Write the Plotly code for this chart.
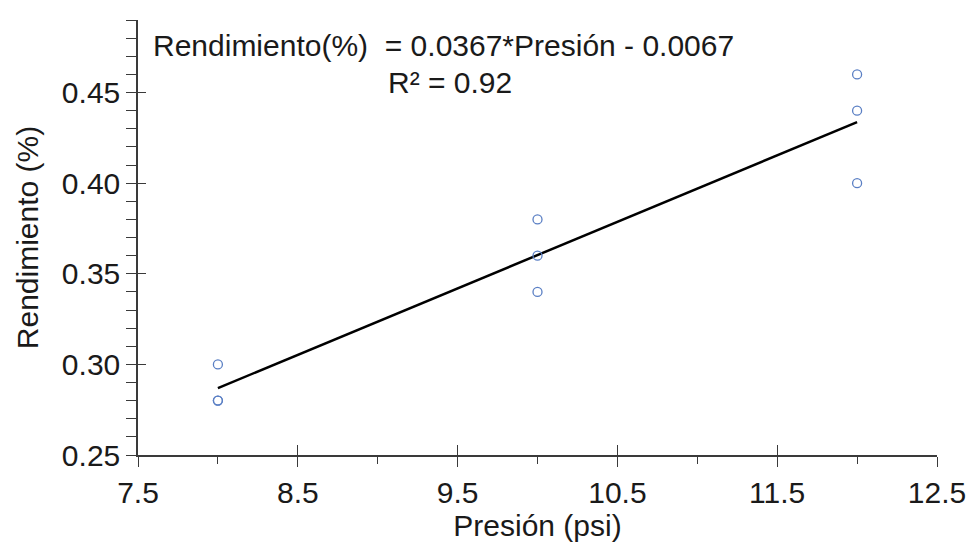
import plotly.graph_objects as go

presion = [8, 8, 8, 10, 10, 10, 12, 12, 12]
rendimiento = [0.30, 0.28, 0.28, 0.38, 0.36, 0.34, 0.46, 0.44, 0.40]
slope = 0.0367
intercept = -0.0067
fit_x = [8, 12]
fit_y = [slope * v + intercept for v in fit_x]
x_ticks = [7.5, 8.5, 9.5, 10.5, 11.5, 12.5]
y_ticks = [0.25, 0.30, 0.35, 0.40, 0.45]
eq_text = "Rendimiento(%)  = 0.0367*Presión - 0.0067"
r2_text = "R² = 0.92"

FONT = "Liberation Sans, Arial, sans-serif"
AX = "#3a3a3a"
TXT = "#1a1a1a"

fig = go.Figure()
fig.add_trace(go.Scatter(x=fit_x, y=fit_y, mode="lines",
                         line=dict(color="black", width=2.5), hoverinfo="skip"))
fig.add_trace(go.Scatter(x=presion, y=rendimiento, mode="markers",
                         marker=dict(symbol="circle-open", size=9,
                                     color="#5a7fc4", line=dict(width=1.3))))
fig.add_trace(go.Scatter(x=[None], y=[None], xaxis="x2", yaxis="y2",
                         showlegend=False, hoverinfo="skip"))

xr = [7.5, 12.5]
yr = [0.25, 0.49]

fig.update_layout(
    width=968, height=545,
    margin=dict(l=138, r=31, t=20, b=90, autoexpand=False),
    paper_bgcolor="white", plot_bgcolor="white",
    showlegend=False,
    font=dict(family=FONT, size=30, color=TXT),
    xaxis=dict(range=xr, tickvals=x_ticks, ticktext=[f"{v:.1f}" for v in x_ticks],
               ticks="outside", ticklen=10, tickwidth=1.3, tickcolor=AX,
               showline=True, linecolor=AX, linewidth=1.5, showgrid=False,
               zeroline=False, automargin=False,
               minor=dict(tickvals=[8, 9, 10, 11, 12], ticks="outside", ticklen=7,
                          tickwidth=1.3, tickcolor=AX, showgrid=False),
               title=dict(text="Presión (psi)", font=dict(size=30), standoff=4),
               tickfont=dict(size=30)),
    yaxis=dict(range=yr, tickvals=y_ticks, ticktext=[f"{v:.2f}" for v in y_ticks],
               ticks="outside", ticklen=10, tickwidth=1.3, tickcolor=AX,
               showline=True, linecolor=AX, linewidth=1.5, showgrid=False,
               zeroline=False, automargin=False,
               minor=dict(dtick=0.01, tick0=0.25, ticks="outside", ticklen=10,
                          tickwidth=1.3, tickcolor=AX, showgrid=False),
               title=dict(text="Rendimiento (%)", font=dict(size=30), standoff=14),
               tickfont=dict(size=30)),
    xaxis2=dict(range=xr, overlaying="x", anchor="y2", tickvals=x_ticks,
                ticks="inside", ticklen=10, tickwidth=1.3, tickcolor=AX,
                showticklabels=False, showline=False, showgrid=False, zeroline=False),
    yaxis2=dict(range=yr, overlaying="y", anchor="x2", tickvals=y_ticks,
                ticks="inside", ticklen=8, tickwidth=1.3, tickcolor=AX,
                showticklabels=False, showline=False, showgrid=False, zeroline=False),
)

fig.add_annotation(x=0.0, xref="paper", xanchor="left", xshift=13,
                   y=1.0, yref="paper", yanchor="middle", yshift=-25,
                   text=eq_text, showarrow=False,
                   font=dict(size=30, family=FONT, color=TXT))
fig.add_annotation(x=0.0, xref="paper", xanchor="left", xshift=248,
                   y=1.0, yref="paper", yanchor="middle", yshift=-62,
                   text=r2_text, showarrow=False,
                   font=dict(size=30, family=FONT, color=TXT))

fig.write_html("out.html", config={"displayModeBar": False},
               post_script="document.body.style.margin='0';document.body.style.overflow='hidden';")
